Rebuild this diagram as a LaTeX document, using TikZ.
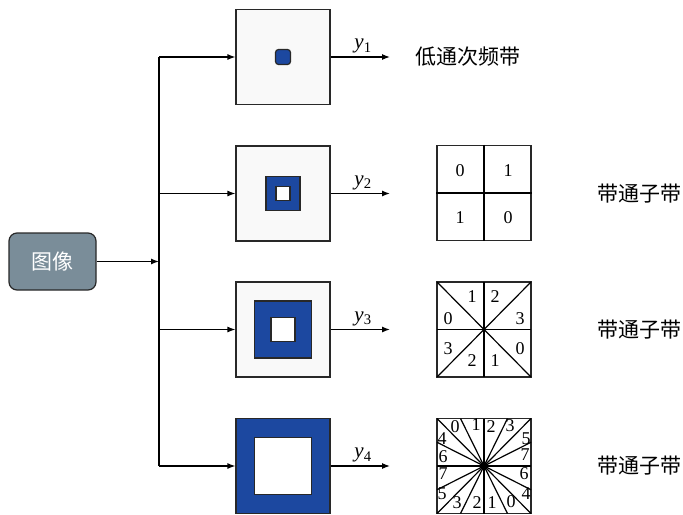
\documentclass[tikz,border=0pt]{standalone}
\usepackage{fontspec}
\setmainfont{Liberation Serif}
\newfontfamily\cjk{Noto Sans CJK SC}
\usetikzlibrary{arrows.meta, calc, positioning}
\definecolor{imggray}{RGB}{122,141,153}
\definecolor{bandblue}{RGB}{28,72,160}
\definecolor{boxgray}{RGB}{249,249,249}
\definecolor{edgegray}{RGB}{40,40,40}

\begin{document}
\begin{tikzpicture}[x=0.5pt, y=-0.5pt, line width=0.6pt, >={Latex[length=4pt,width=3pt]}]
    % Define styles for boxes and labels
    \tikzset{
        filterbox/.style={draw=edgegray, fill=boxgray, minimum width=47pt, minimum height=47.5pt, inner sep=0pt},
        gridbox/.style={draw=edgegray, minimum width=47pt, minimum height=47.5pt, inner sep=0pt},
        band/.style={draw=edgegray, fill=bandblue, inner sep=0pt},
        hole/.style={draw=edgegray, fill=white, inner sep=0pt},
        digit/.style={font=\fontsize{9}{9}\selectfont, inner sep=0pt},
        bandname/.style={font=\cjk\fontsize{10.5}{12}\selectfont, inner sep=0pt},
        ylabel/.style={font=\fontsize{10.5}{12}\selectfont, above, inner sep=1.5pt}
    }
    \useasboundingbox (0,0) rectangle (683,514);

    % INPUT IMAGE
    \node[draw=edgegray, fill=imggray, rounded corners=4pt, minimum width=43.5pt, minimum height=28.5pt,
          text=white, font=\cjk\fontsize{10.5}{12}\selectfont] (img) at (52.5,261.5) {图像};
    \coordinate (bus) at (159,261.5);
    \coordinate (bustop) at (159,57);
    \coordinate (busbot) at (159,466);
    \coordinate (outx) at (390,0);
    \draw[->] (img) -- (bus);
    \draw (bustop) -- (busbot);

    % FILTER BOXES
    \node[filterbox] (f1) at (283,57) {};
    \node[filterbox] (f2) at (283,193.5) {};
    \node[filterbox] (f3) at (283,329.5) {};
    \node[filterbox, fill=bandblue] (f4) at (283,466) {};

    % Pass bands
    \node[band, rounded corners=1.5pt, minimum size=7.5pt] (b1) at (f1) {};
    \node[band, minimum size=17pt] (b2) at (f2) {};
    \node[hole, minimum size=7pt] (h2) at (f2) {};
    \node[band, minimum size=28.5pt] (b3) at (f3) {};
    \node[hole, minimum size=12pt] (h3) at (f3) {};
    \node[hole, minimum size=28.5pt] (h4) at (f4) {};

    % Branches and outputs
    \foreach \i in {1,...,4} {
        \draw[->] (bustop |- f\i) -- (f\i.west);
        \draw[->] (f\i.east) -- (f\i.east -| outx) node[ylabel, pos=0.55] (y\i) {\textit{y}\textsubscript{\i}};
    }

    % SUBBAND NAMES
    \node[bandname, anchor=west] (low) at (415,57) {低通次频带};
    \node[bandname] (bp2) at (639,193.5) {带通子带};
    \node[bandname] (bp3) at (639,329.5) {带通子带};
    \node[bandname] (bp4) at (639,466) {带通子带};

    % DIRECTION GRIDS
    \node[gridbox] (g2) at (484,193) {};
    \node[gridbox] (g3) at (484,329.5) {};
    \node[gridbox] (g4) at (484,466) {};

    % 4 quadrants
    \draw (g2.north) -- (g2.south);
    \draw (g2.west) -- (g2.east);
    \foreach \dx/\dy/\d [count=\k] in {-24/-22/0, 24/-22/1, -24/25/1, 24/25/0}
        \node[digit] (g2-\k) at ($(g2)+(\dx,\dy)$) {\d};

    % 8 wedges
    \foreach \t in {-1,0} {
        \draw (g3.center) -- ++(\t*47,-47.5);
        \draw (g3.center) -- ++(47,\t*47.5);
        \draw (g3.center) -- ++(-\t*47,47.5);
        \draw (g3.center) -- ++(-47,-\t*47.5);
    }
    \foreach \dx/\dy/\d [count=\k] in {-12/-33/1, 11/-33/2, -36/-11/0, 36/-11/3,
                                     -36/19/3, 36/19/0, -12/31/2, 11/31/1}
        \node[digit] (g3-\k) at ($(g3)+(\dx,\dy)$) {\d};

    % 16 wedges
    \foreach \t in {-1,-0.5,0,0.5} {
        \draw (g4.center) -- ++(\t*47,-47.5);
        \draw (g4.center) -- ++(47,\t*47.5);
        \draw (g4.center) -- ++(-\t*47,47.5);
        \draw (g4.center) -- ++(-47,-\t*47.5);
    }
    \foreach \dx/\dy/\d [count=\k] in {-29/-39/0, -8/-41/1, 7/-39/2, 26/-40/3,
                                     -42/-27/4, 42/-27/5, -41/-9/6, 41/-11/7,
                                     -41/8/7, 40/8/6, -42/28/5, 42/28/4,
                                     -27/37/3, -7/37/2, 8/37/1, 27/36/0}
        \node[digit] (g4-\k) at ($(g4)+(\dx,\dy)$) {\d};

\end{tikzpicture}
\end{document}
